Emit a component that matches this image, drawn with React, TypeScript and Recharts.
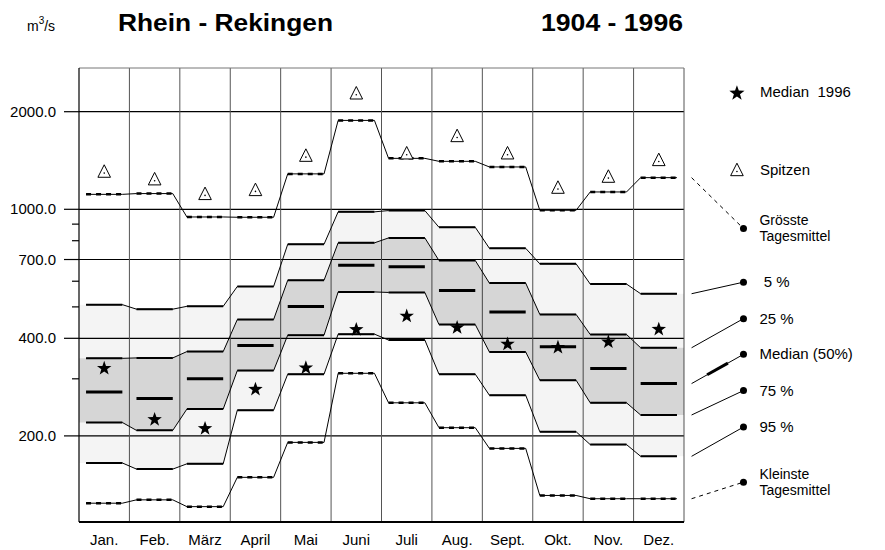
import React from "react";
import {
  ComposedChart, Area, Line, Scatter, XAxis, YAxis, CartesianGrid,
  ReferenceLine, ReferenceDot,
} from "recharts";

const months = ["Jan.", "Feb.", "März", "April", "Mai", "Juni", "Juli", "Aug.", "Sept.", "Okt.", "Nov.", "Dez."];
const maxDaily = [1112, 1118, 947, 945, 1286, 1880, 1436, 1406, 1351, 993, 1131, 1252];
const peaks = [1310, 1241, 1118, 1150, 1467, 2284, 1492, 1687, 1492, 1169, 1264, 1423];
const p5 = [508, 492, 502, 578, 780, 982, 991, 880, 758, 679, 588, 549];
const p25 = [347, 348, 364, 457, 604, 788, 816, 695, 592, 474, 411, 374];
const p50 = [273, 261, 300, 380, 501, 672, 665, 562, 482, 377, 323, 290];
const p75 = [220, 208, 242, 318, 409, 556, 554, 441, 363, 297, 253, 232];
const p95 = [165, 158, 164, 240, 310, 412, 395, 310, 267, 206, 188, 173];
const minDaily = [124, 127, 121, 149, 191, 312, 253, 212, 183, 131, 128, 128];
const median1996 = [325, 226, 212, 280, 326, 428, 471, 434, 386, 377, 392, 429];

const yTicks = [200, 300, 400, 500, 600, 700, 800, 900, 1000, 2000];
const yLabels = [200, 400, 700, 1000, 2000];

// legend on the right, dot heights in axis units
const legendLabels = ["Grösste|Tagesmittel", " 5 %", "25 %", "Median (50%)", "75 %", "95 %", "Kleinste|Tagesmittel"];
const legendLevels = [872, 596, 460, 357, 276, 213, 144];
const legendSources = [maxDaily, p5, p25, p50, p75, p95, minDaily];

const FONT = "'Liberation Sans', Arial, Helvetica, sans-serif";
const Y_DOMAIN: [number, number] = [108.5, 2728];
const INSET = 0.14;
const DOT_X = 13.18;
const LINE_X = 12.15;

const row = (i: number, x: number) => ({
  x, max: maxDaily[i], p5: p5[i], p25: p25[i], p50: p50[i],
  p75: p75[i], p95: p95[i], min: minDaily[i],
});
const gap = (x: number) => ({ x, max: null, p5: null, p25: null, p50: null, p75: null, p95: null, min: null });

const lineRows = months.flatMap((_, i) => [row(i, i + INSET), row(i, i + 1 - INSET)]);
const areaRows = [row(0, 0), ...lineRows, row(11, 12)];
const flatRows = months.flatMap((_, i) => [row(i, i + INSET), row(i, i + 1 - INSET), gap(i + 0.95)]);
const peakRows = months.map((_, i) => ({ x: i + 0.5, v: peaks[i] }));
const starRows = months.map((_, i) => ({ x: i + 0.5, v: median1996[i] }));

const starPts = (cx: number, cy: number, R: number) =>
  Array.from({ length: 10 }, (_, k) => {
    const a = -Math.PI / 2 + (k * Math.PI) / 5;
    const r = k % 2 === 0 ? R : R * 0.4;
    return `${cx + r * Math.cos(a)},${cy + r * Math.sin(a)}`;
  }).join(" ");

const Star = (p: any) => <polygon points={starPts(p.cx, p.cy + 0.8, 7.6)} fill="#000" />;

const Tri = (p: any) => (
  <g>
    <polygon
      points={`${p.cx},${p.cy - 6.5} ${p.cx + 6.3},${p.cy + 6} ${p.cx - 6.3},${p.cy + 6}`}
      fill="#fff" stroke="#000" strokeWidth={1}
    />
    <circle cx={p.cx} cy={p.cy + 1.8} r={0.8} fill="#000" />
  </g>
);

const YTick = ({ x, y, payload }: any) => {
  const major = yLabels.includes(payload.value);
  return (
    <g>
      <line x1={x - (major ? 15 : 7)} x2={x} y1={y} y2={y} stroke="#000" strokeWidth={1.2} />
      {major && (
        <text x={x - 23} y={y} dy={5} textAnchor="end" fontSize={15} fontFamily={FONT} fill="#000">
          {payload.value.toFixed(1)}
        </text>
      )}
    </g>
  );
};

const XTick = ({ x, y, payload }: any) => (
  <text x={x} y={y + 22.5} textAnchor="middle" fontSize={15} fontFamily={FONT} fill="#000">
    {months[Math.floor(payload.value)]}
  </text>
);

const legendDot = (label: string) => (p: any) => {
  const lines = label.split("|");
  const two = lines.length > 1;
  return (
    <g>
      <circle cx={p.cx} cy={p.cy} r={3.5} fill="#000" />
      {lines.map((t, k) => (
        <text key={k} x={p.cx + 16} y={p.cy + (two ? -8 + k * 16 : 0)} dy={two ? 4.5 : 5}
          fontSize={two ? 14 : 15} fontFamily={FONT} fill="#000" style={{ whiteSpace: "pre" }}>
          {t}
        </text>
      ))}
    </g>
  );
};

const symbolLegend = (label: string, star: boolean) => (p: any) => (
  <g>
    {star ? <polygon points={starPts(p.cx, p.cy + 0.8, 8)} fill="#000" /> : Tri(p)}
    <text x={p.cx + 23} y={p.cy} dy={5} fontSize={15} fontFamily={FONT} fill="#000" style={{ whiteSpace: "pre" }}>
      {label}
    </text>
  </g>
);

// point along a connector, straight in pixels: linear in x, linear in log(y)
const along = (a: { x: number; y: number }, b: { x: number; y: number }, t: number) => ({
  x: a.x + (b.x - a.x) * t,
  y: Math.pow(10, Math.log10(a.y) + (Math.log10(b.y) - Math.log10(a.y)) * t),
});

export default function App() {
  const thin = ["max", "p5", "p25", "p75", "p95", "min"];
  const medStart = { x: LINE_X, y: p50[11] };
  const medEnd = { x: DOT_X, y: legendLevels[3] };

  return (
    <div style={{ position: "absolute", left: 0, top: 0, width: 885, height: 550, background: "#fff" }}>
      <svg width={885} height={50} style={{ position: "absolute", left: 0, top: 0 }}>
        <text x={27} y={31} fontSize={14} fontFamily={FONT} fill="#000">
          m<tspan dy={-7} fontSize={10}>3</tspan><tspan dy={7}>/s</tspan>
        </text>
        <text x={118} y={31} fontSize={24} fontWeight="bold" fontFamily={FONT} fill="#000"
          textLength={215} lengthAdjust="spacingAndGlyphs">Rhein - Rekingen</text>
        <text x={541} y={31} fontSize={24} fontWeight="bold" fontFamily={FONT} fill="#000"
          textLength={142} lengthAdjust="spacingAndGlyphs">1904 - 1996</text>
      </svg>
      <ComposedChart width={885} height={550} data={areaRows}
        margin={{ top: 68, right: 201, left: 0, bottom: 0 }}
        style={{ position: "absolute", left: 0, top: 0 }}>
        <CartesianGrid vertical={false} horizontalValues={yLabels} stroke="#000" strokeWidth={1.2} />
        <CartesianGrid horizontal={false} verticalValues={[1, 2, 3, 4, 5, 6, 7, 8, 9, 10, 11, 12]} stroke="#555" />
        <CartesianGrid vertical={false} horizontalValues={[Y_DOMAIN[1]]} stroke="#777" />
        <XAxis dataKey="x" type="number" domain={[0, 12]} ticks={months.map((_, i) => i + 0.5)}
          height={28} tickSize={0} tickMargin={0} tick={<XTick />} tickLine={false}
          axisLine={{ stroke: "#000", strokeWidth: 2 }} allowDataOverflow />
        <YAxis type="number" scale="log" domain={Y_DOMAIN} ticks={yTicks} width={79}
          tickSize={0} tickMargin={0} tick={<YTick />} tickLine={false} interval={0}
          axisLine={{ stroke: "#000", strokeWidth: 1.2 }} allowDataOverflow />

        <Area dataKey={(d: any) => [d.p95, d.p5]} fill="#000" fillOpacity={0.045} stroke="none"
          isAnimationActive={false} />
        <Area dataKey={(d: any) => [d.p75, d.p25]} fill="#000" fillOpacity={0.12} stroke="none"
          isAnimationActive={false} />

        {thin.map((k) => (
          <Line key={k} data={lineRows} dataKey={k} stroke="#000" strokeWidth={1} dot={false}
            isAnimationActive={false} />
        ))}
        {["p5", "p25", "p75", "p95"].map((k) => (
          <Line key={"f" + k} data={flatRows} dataKey={k} stroke="#000" strokeWidth={2} dot={false}
            isAnimationActive={false} />
        ))}
        {["max", "min"].map((k) => (
          <Line key={"f" + k} data={flatRows} dataKey={k} stroke="#000" strokeWidth={2.5}
            strokeDasharray="5 5" dot={false} isAnimationActive={false} />
        ))}
        <Line data={flatRows} dataKey="p50" stroke="#000" strokeWidth={3} dot={false}
          isAnimationActive={false} />

        <Scatter data={peakRows} dataKey="v" shape={Tri} isAnimationActive={false} />
        <Scatter data={starRows} dataKey="v" shape={Star} isAnimationActive={false} />

        {legendSources.map((src, k) => (
          <ReferenceLine key={"c" + k} ifOverflow="visible"
            segment={[{ x: LINE_X, y: src[11] }, { x: DOT_X, y: legendLevels[k] }]}
            stroke="#000" strokeWidth={1}
            strokeDasharray={k === 0 || k === 6 ? "4 4" : undefined} />
        ))}
        <ReferenceLine ifOverflow="visible" stroke="#000" strokeWidth={3}
          segment={[along(medStart, medEnd, 0.3), along(medStart, medEnd, 0.7)]} />
        {legendLabels.map((lab, k) => (
          <ReferenceDot key={"d" + k} x={DOT_X} y={legendLevels[k]} ifOverflow="visible"
            shape={legendDot(lab)} />
        ))}
        <ReferenceDot x={13.05} y={2294} ifOverflow="visible" shape={symbolLegend("Median  1996", true)} />
        <ReferenceDot x={13.05} y={1325} ifOverflow="visible" shape={symbolLegend("Spitzen", false)} />
      </ComposedChart>
    </div>
  );
}
